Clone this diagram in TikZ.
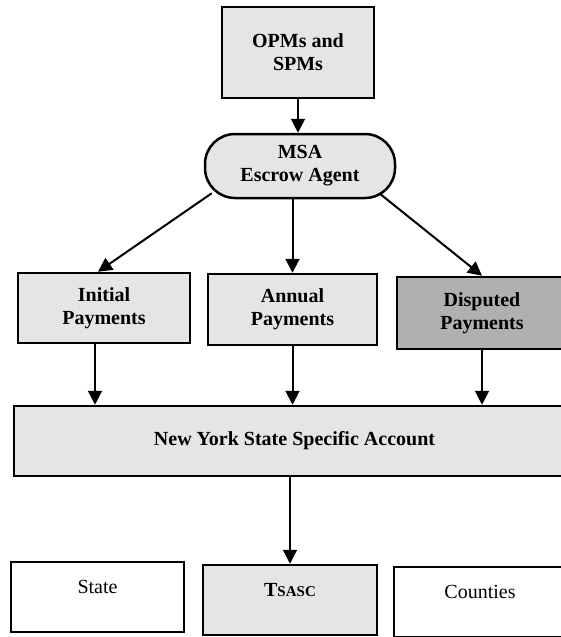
\documentclass[tikz,border=0pt]{standalone}
\usepackage{fontspec}
\setmainfont{Liberation Serif}
\usetikzlibrary{arrows.meta, positioning}

\begin{document}
\begin{tikzpicture}[x=1pt, y=-1pt,
    box/.style={draw, line width=2.5pt, fill=gray!20, align=center, inner sep=2pt,
                font=\fontsize{20}{23}\selectfont\bfseries},
    darkbox/.style={box, fill=gray!62},
    plainbox/.style={box, fill=white, line width=2pt, font=\fontsize{20}{23}\selectfont, text depth=20pt},
    flow/.style={-{Triangle[length=14pt, width=14pt]}, line width=2pt}]
    \useasboundingbox (0,0) rectangle (561,637);
    % source and agent
    \node[box, minimum width=152pt, minimum height=91pt] (opm) at (298,52.5) {OPMs and\\SPMs};
    \node[box, rounded corners=30pt, minimum width=190pt, minimum height=64pt] (msa) at (300,166) {MSA\\Escrow Agent};
    % payments
    \node[box, minimum width=172pt, minimum height=70pt] (init) at (104,308) {Initial\\Payments};
    \node[box, minimum width=169pt, minimum height=71pt] (annual) at (292.5,309.5) {Annual\\Payments};
    \node[darkbox, minimum width=170pt, minimum height=72pt] (disp) at (482,313) {Disputed\\Payments};
    % account
    \node[box, minimum width=561pt, minimum height=70pt] (nys) at (294.5,441) {New York State Specific Account};
    % recipients
    \node[plainbox, minimum width=173pt, minimum height=70pt] (state) at (97.5,597) {State};
    \node[box, text depth=20pt, minimum width=174pt, minimum height=70pt] (tsasc) at (290,600) {T{\fontsize{15}{15}\selectfont SASC}};
    \node[plainbox, minimum width=172pt, minimum height=70pt] (counties) at (480,602) {Counties};
    % arrows
    \draw[flow] (opm.south) -- (opm.south |- msa.north);
    \draw[flow] ([xshift=8pt, yshift=6pt]msa.south west) -- ([xshift=-6pt]init.north);
    \draw[flow] (annual.north |- msa.south) -- (annual.north);
    \draw[flow] ([xshift=-17pt, yshift=6pt]msa.south east) -- (disp.north);
    \draw[flow] ([xshift=-9pt]init.south) -- ([xshift=-9pt]init.south |- nys.north);
    \draw[flow] (annual.south) -- (annual.south |- nys.north);
    \draw[flow] (disp.south) -- (disp.south |- nys.north);
    \draw[flow] (tsasc.north |- nys.south) -- (tsasc.north);
\end{tikzpicture}
\end{document}
